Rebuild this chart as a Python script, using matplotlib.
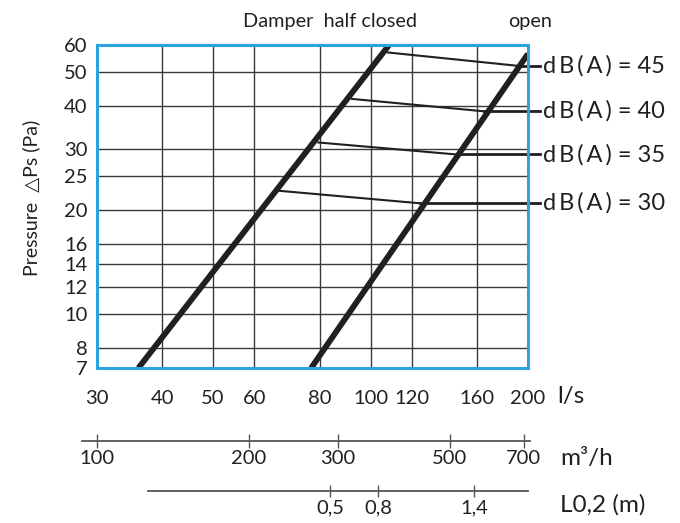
import matplotlib
matplotlib.use("Agg")
import matplotlib.pyplot as plt

plt.rcParams['font.family'] = ['Lato', 'DejaVu Sans']

ink = '#231f20'
frame_blue = '#2ba3dc'

# main scales
flow_ticks = [30, 40, 50, 60, 80, 100, 120, 160, 200]
pressure_ticks = [7, 8, 10, 12, 14, 16, 20, 25, 30, 40, 50, 60]

# damper curves (flow l/s, pressure Pa)
half_closed_q = [36.0, 108.7]
half_closed_p = [7.0, 60.0]
open_q = [77.0, 200.0]
open_p = [7.0, 56.4]

# sound level lines: start on the half closed curve, bend at the open curve
db_levels = [45, 40, 35, 30]
db_start_q = [108.0, 92.2, 79.5, 67.1]
db_start_p = [56.9, 41.8, 31.3, 22.7]
db_bend_q = [193.1, 164.8, 146.3, 124.3]
db_bend_p = [52.0, 38.5, 28.9, 20.9]

# secondary scales under the chart
m3h_ticks = [100, 200, 300, 500, 700]
l02_ticks = [0.5, 0.8, 1.4]
l02_labels = ['0,5', '0,8', '1,4']

W, H = 680, 523
fig = plt.figure(figsize=(W / 100, H / 100), dpi=100)

ax = fig.add_axes([97 / W, (H - 368) / H, 431 / W, 323.5 / H])
ax.set_xscale('log')
ax.set_yscale('log')
ax.set_xlim(30, 200)
ax.set_ylim(7, 60)
ax.set_xticks(flow_ticks, [str(v) for v in flow_ticks])
ax.set_yticks(pressure_ticks, [str(v) for v in pressure_ticks])
ax.minorticks_off()
ax.grid(True, color='#3a3a3a', lw=1)
ax.tick_params(length=0, labelsize=14.5, labelcolor=ink)
ax.tick_params(axis='x', pad=16)
ax.tick_params(axis='y', pad=7)
for s in ax.spines.values():
    s.set_color(frame_blue)
    s.set_linewidth(2.2)
    s.set_zorder(5)

ax.plot(half_closed_q, half_closed_p, color=ink, lw=4.2, solid_capstyle='butt')
ax.plot(open_q, open_p, color=ink, lw=4.2, solid_capstyle='butt')

tail_q = 211
for lvl, q0, p0, q1, p1 in zip(db_levels, db_start_q, db_start_p, db_bend_q, db_bend_p):
    ax.plot([q0, q1], [p0, p1], color=ink, lw=1.5)
    ax.plot([q1, tail_q], [p1, p1], color=ink, lw=2, clip_on=False)
    label = '\u2009'.join('dB(A)') + ' = ' + str(lvl)
    ax.text(214, p1, label, va='center', ha='left', fontsize=17, color=ink)

fig.text(330 / W, 1 - 22 / H, 'Damper  half closed', ha='center', va='center', fontsize=14.3, color=ink)
fig.text(530 / W, 1 - 22 / H, 'open', ha='center', va='center', fontsize=14.3, color=ink)
fig.text(31 / W, 1 - 198 / H, 'Pressure  \u25b3Ps (Pa)', rotation=90, ha='center', va='center',
         fontsize=14, color=ink)

fig.text(557 / W, 1 - 397 / H, 'l/s', ha='left', va='center', fontsize=17.5, color=ink)
fig.text(560 / W, 1 - 458 / H, 'm\u00b3/h', ha='left', va='center', fontsize=17.5, color=ink)
fig.text(560 / W, 1 - 505 / H, 'L0,2 (m)', ha='left', va='center', fontsize=17.5, color=ink)


def scale_axis(y_px, x0_px, x1_px):
    a = fig.add_axes([x0_px / W, (H - y_px) / H, (x1_px - x0_px) / W, 0.001])
    a.patch.set_visible(False)
    a.set_yticks([])
    for s in ['top', 'left', 'right']:
        a.spines[s].set_visible(False)
    a.spines['bottom'].set_color('#555555')
    a.spines['bottom'].set_linewidth(1.3)
    return a


ax_m3h = scale_axis(440.7, 82, 530)
ax_m3h.set_xscale('log')
ax_m3h.set_xlim(93.5, 720)
ax_m3h.set_xticks(m3h_ticks, [str(v) for v in m3h_ticks])
ax_m3h.minorticks_off()
ax_m3h.tick_params(axis='x', direction='inout', length=10, width=1, color='#555555',
                   labelsize=14.5, labelcolor=ink, pad=2)

ax_l = scale_axis(490.7, 148, 528)
ax_l.set_xlim(-0.6375, 1.7375)
ax_l.set_xticks(l02_ticks, l02_labels)
ax_l.tick_params(axis='x', direction='inout', length=9, width=1, color='#555555',
                 labelsize=14.5, labelcolor=ink, pad=2)

fig.savefig('out.png', dpi=100)
